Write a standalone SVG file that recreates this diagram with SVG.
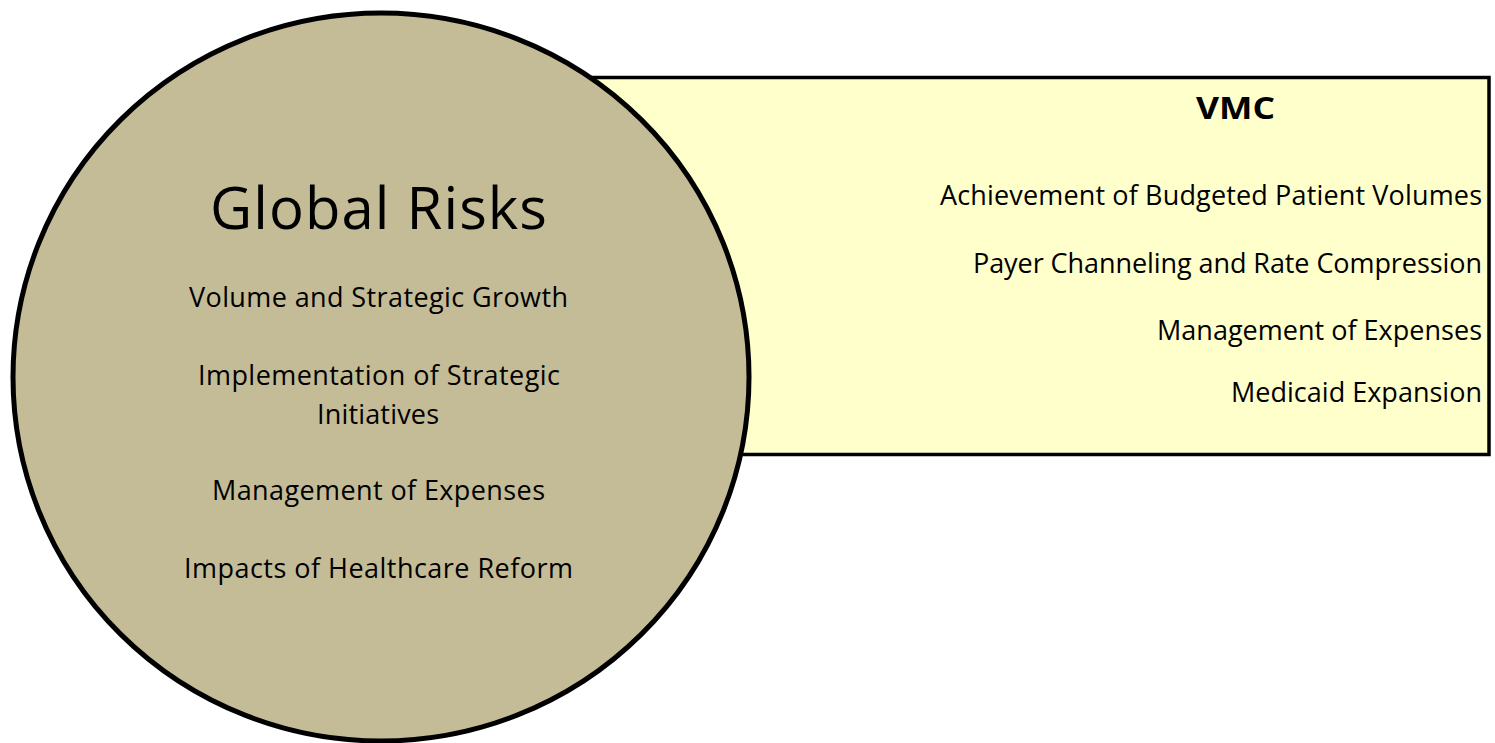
<svg xmlns="http://www.w3.org/2000/svg" width="1495" height="743" viewBox="0 0 1495 743">
  <style>
    .label { font-family: "Open Sans", "Liberation Sans", sans-serif; fill: #000; }
    .item { font-size: 27px; }
    .risk { text-anchor: middle; }
    .vmc { text-anchor: end; }
  </style>
  <rect width="1495" height="743" fill="#ffffff"/>

  <!-- VMC panel sits behind the circle -->
  <g id="vmc">
    <rect x="400" y="77.5" width="1089" height="377" fill="#FFFFCC" stroke="#000" stroke-width="3.5"/>
    <text class="label" x="1235.5" y="119" font-size="30" font-weight="bold" text-anchor="middle" textLength="79" lengthAdjust="spacingAndGlyphs">VMC</text>
    <text class="label item vmc" x="1482" y="205" textLength="542" lengthAdjust="spacing">Achievement of Budgeted Patient Volumes</text>
    <text class="label item vmc" x="1482" y="273" textLength="509" lengthAdjust="spacing">Payer Channeling and Rate Compression</text>
    <text class="label item vmc" x="1482" y="340" textLength="325" lengthAdjust="spacing">Management of Expenses</text>
    <text class="label item vmc" x="1482" y="402" textLength="251" lengthAdjust="spacing">Medicaid Expansion</text>
  </g>

  <g id="global-risks">
    <ellipse cx="381" cy="377" rx="368" ry="364" fill="#C4BC97" stroke="#000" stroke-width="5"/>
    <text class="label risk" x="378.5" y="229" font-size="58" textLength="337" lengthAdjust="spacing">Global Risks</text>
    <text class="label item risk" x="378.5" y="307" textLength="379" lengthAdjust="spacing">Volume and Strategic Growth</text>
    <text class="label item risk" x="379" y="385" textLength="362" lengthAdjust="spacing">Implementation of Strategic</text>
    <text class="label item risk" x="378" y="424" textLength="122" lengthAdjust="spacing">Initiatives</text>
    <text class="label item risk" x="378.5" y="500" textLength="333" lengthAdjust="spacing">Management of Expenses</text>
    <text class="label item risk" x="378.5" y="578" textLength="389" lengthAdjust="spacing">Impacts of Healthcare Reform</text>
  </g>

  <g id="connectors"/>
</svg>
